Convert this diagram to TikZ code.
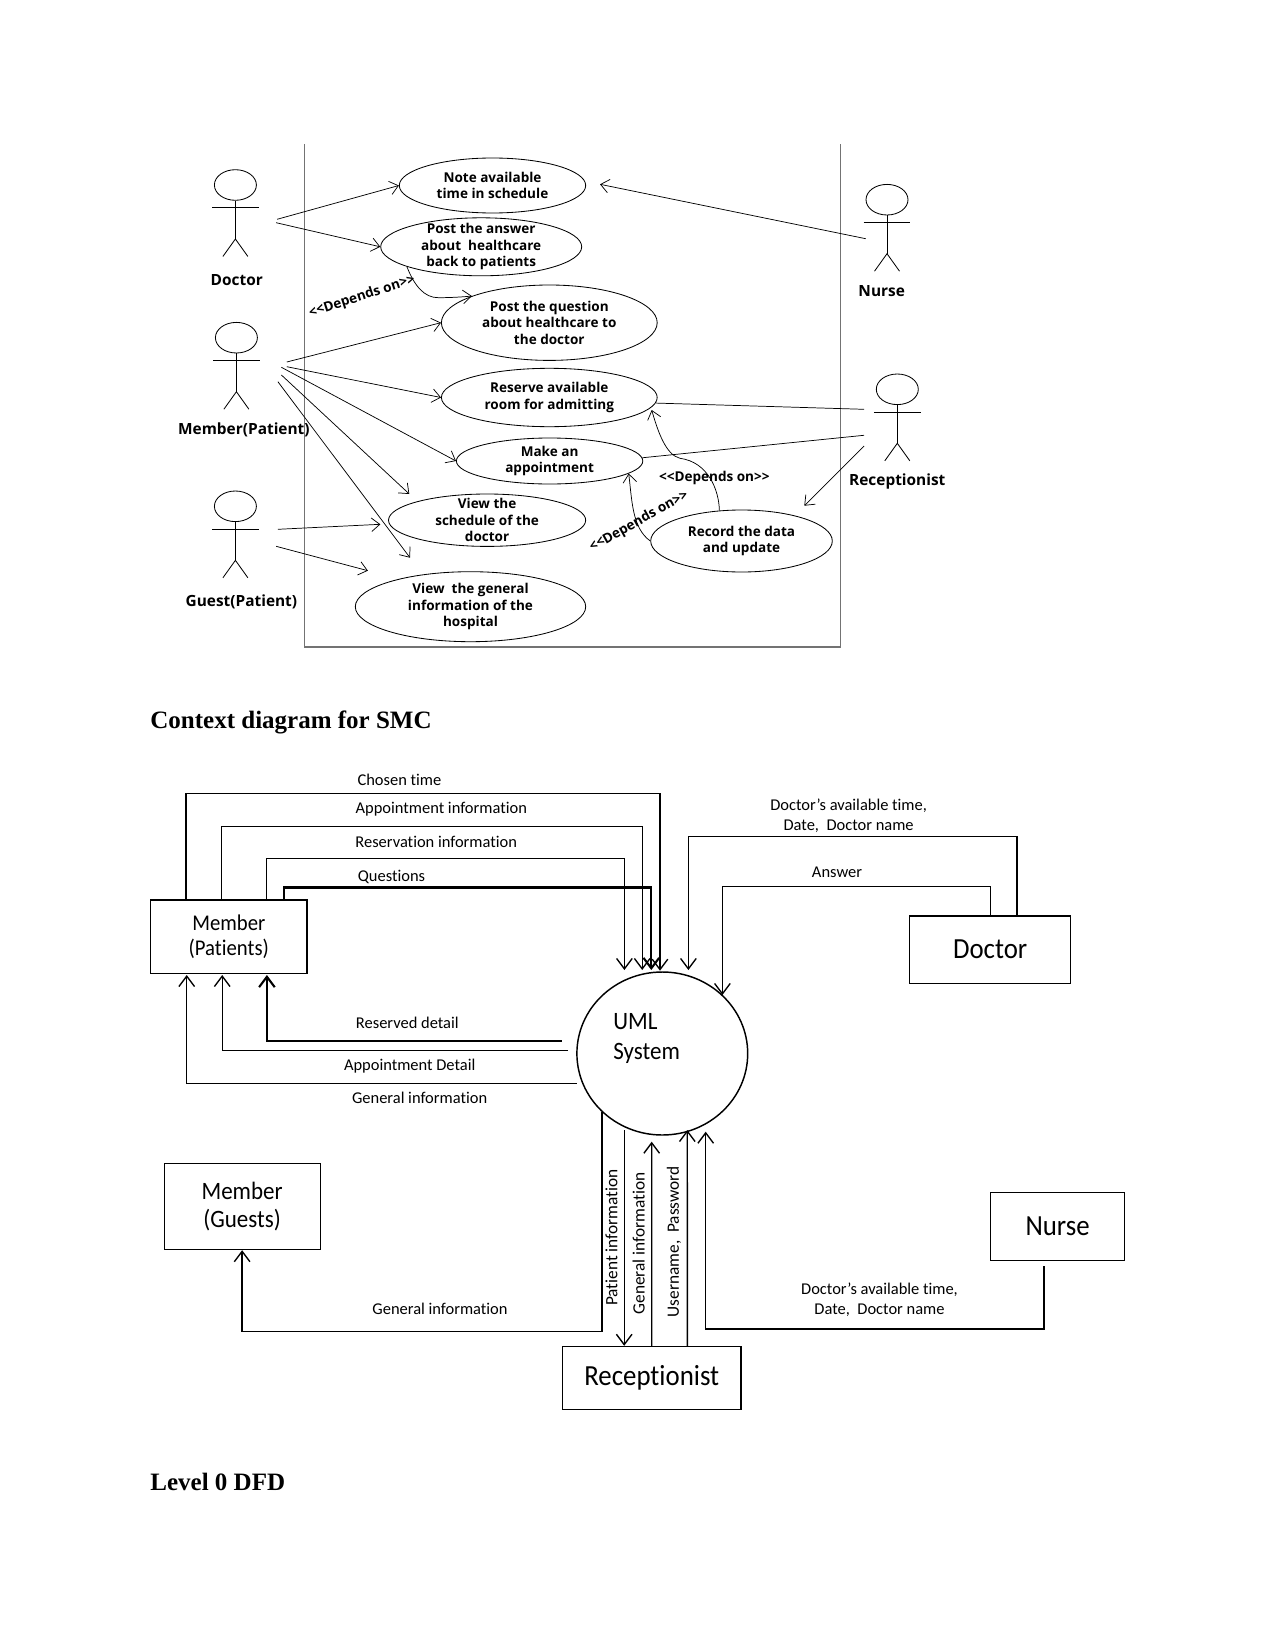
\documentclass[tikz,border=0pt]{standalone}
\usepackage{fontspec}
\setmainfont{Liberation Serif}
\newfontfamily\casefont{Open Sans}
\newfontfamily\flowfont[Ligatures=NoCommon]{Carlito}
\newfontfamily\boxfont[Ligatures=NoCommon,FakeStretch=0.92]{Carlito}
\usetikzlibrary{positioning}
\usetikzlibrary{shapes.geometric,arrows.meta}
\begin{document}
\begin{tikzpicture}[%
    x=0.48pt,
    y=-0.48pt,
    >={Straight Barb[length=4pt,width=6.5pt]},
    usecase/.style 2 args={%
      ellipse,
      draw,
      inner xsep=0pt,
      inner ysep=-4pt,
      line width=0.4pt,
      align=center,
      font=\casefont\bfseries\fontsize{6.5}{8}\selectfont,
      minimum width=#1*0.48pt,
      minimum height=#2*0.48pt
    },
    link/.style={draw, line width=0.35pt},
    actorname/.style={font=\casefont\bfseries\fontsize{7.4}{8}\selectfont},
    depends/.style={font=\casefont\bfseries\fontsize{6.5}{8}\selectfont},
    flow/.style={draw, line width=0.65pt, >={Straight Barb[length=5pt,width=7.5pt]}},
    boldflow/.style={flow, line width=1pt},
    flowlabel/.style={font=\flowfont\fontsize{7.9}{9.4}\selectfont, align=center},
    sidelabel/.style={font=\flowfont\fontsize{8.3}{9.4}\selectfont, rotate=90},
    extbox/.style 2 args={%
      rectangle,
      draw,
      line width=0.55pt,
      align=center,
      inner sep=0pt,
      font=\boxfont\fontsize{#2}{13.5}\selectfont,
      minimum width=#1
    },
    heading/.style={font=\bfseries\fontsize{12}{14}\selectfont, anchor=west, inner sep=0pt},
    actor/.pic={%
      \node[ellipse, draw, line width=0.4pt, inner sep=0pt, minimum width=42*0.48pt, minimum height=30.6*0.48pt] (-head) at (0,0) {};
      \draw[line width=0.4pt] (-head.south) -- (0,54) coordinate (-hip);
      \draw[line width=0.4pt] (-23.4,22.7) -- (23.4,22.7);
      \draw[line width=0.4pt] (-12.5,71.5) -- (-hip) -- (12.5,71.5);
    }
  ]
  \useasboundingbox (0,0) rectangle (1275,1651);
  % System frame:
    \draw[line width=0.7pt, black!55] (304.6,144) -- (304.6,647) -- (840.7,647) -- (840.7,144);
  % Actors:
    \pic (doctor) at (235.4,185) {actor};
    \pic (member) at (236.4,337.7) {actor};
    \pic (guest) at (235.4,506.3) {actor};
    \pic (nurse) at (887,199.7) {actor};
    \pic (recept) at (897.3,389.3) {actor};
    \node[actorname] (doctorname) at (236.8,280.5) {Doctor};
    \node[actorname] (membername) at (243.9,430) {Member(Patient)};
    \node[actorname] (guestname) at (241.4,601.5) {Guest(Patient)};
    \node[actorname] (nursename) at (881.7,291) {Nurse};
    \node[actorname] (receptname) at (897.3,481.5) {Receptionist};
  % Use cases:
    \node[usecase={186.4}{55}] (note) at (492.5,185.5) {Note available\\time in schedule};
    \node[usecase={201}{58}] (answer) at (481.2,246.8) {Post the answer\\about\ \ healthcare\\back to patients};
    \node[usecase={215.8}{75.4}] (question) at (549.3,322.7) {Post the question\\about healthcare to\\the doctor};
    \node[usecase={215.8}{58.4}] (reserve) at (549.3,397.5) {Reserve available\\room for admitting};
    \node[usecase={186.4}{46}] (appoint) at (549.6,461) {Make an\\appointment};
    \node[usecase={197.2}{52.4}] (schedule) at (487.1,520.2) {View the\\schedule of the\\doctor};
    \node[usecase={230.4}{70}] (general) at (470.5,606.7) {View\ \ the general\\information of the\\hospital};
    \node[usecase={181.6}{62}] (record) at (741.5,541) {Record the data\\and update};
    \node[depends, rotate=18] (dependA) at (362.1,296.7) {<{}<Depends on>{}>};
    \node[depends] (dependB) at (714.3,478) {<{}<Depends on>{}>};
    \node[depends, rotate=29] (dependC) at (639,521.7) {<{}<Depends on>{}>};
  % Free ends:
    \coordinate (docA) at (277.1,219.3);
    \coordinate (docB) at (276.1,222.7);
    \coordinate (memA) at (286.8,362);
    \coordinate (memB) at (286.8,366.7);
    \coordinate (memC) at (281.4,367.3);
    \coordinate (memD) at (281.4,375);
    \coordinate (memE) at (277.9,381.7);
    \coordinate (gstA) at (277.9,529.3);
    \coordinate (gstB) at (276.1,546.3);
    \coordinate (nrsA) at (865.7,238.7);
    \coordinate (recA) at (864,409.3);
    \coordinate (recB) at (864,435.3);
    \coordinate (recC) at (864,446);
    \coordinate (noteE) at (600,184.3);
    \coordinate (schedE) at (409.3,494);
    \coordinate (schedF) at (380.4,524.3);
    \coordinate (genE) at (410,557.7);
    \coordinate (genF) at (367.9,570.7);
    \coordinate (recordE) at (804.3,505.7);
    \coordinate (reserveE) at (651.7,410);
  % Paths:
    \draw[link,->] (docA) -- (note.west);
    \draw[link,->] (docB) -- (answer.west);
    \draw[link,->] (memA) -- (question.west);
    \draw[link,->] (memB) -- (reserve.west);
    \draw[link,->] (memC) -- (appoint.west);
    \draw[link,->] (memD) -- (schedE);
    \draw[link,->] (memE) -- (genE);
    \draw[link,->] (gstA) -- (schedF);
    \draw[link,->] (gstB) -- (genF);
    \draw[link,->] (nrsA) -- (noteE);
    \draw[link] (reserve.-3) -- (recA);
    \draw[link] (appoint.2) -- (recB);
    \draw[link,->] (recC) -- (recordE);
    \draw[link,->] (record.126) .. controls (719,490) and (708,462) .. (680,458.3)
      .. controls (666,455) and (658,432) .. (reserveE);
    \draw[link,->] (record.west) .. controls (632,528) and (632,500) .. (appoint.-9);
    \draw[link,->] (answer.195) .. controls (414,285) and (424,298) .. (438.6,297.7)
      .. controls (450,297.7) and (462,297) .. (question.161);
  % Headings:
    \node[heading] (contexthead) at (150,722) {Context diagram for SMC};
    \node[heading] (levelhead) at (150,1482) {Level 0 DFD};
  % External entities:
    \node[extbox={75pt}{10.8}, minimum height=35.2pt] (patients) at (228.8,936.7) {Member\\[-1.4pt](Patients)};
    \node[extbox={77.3pt}{14}, minimum height=32.3pt] (doctorb) at (990.2,949.6) {Doctor};
    \node[extbox={74.9pt}{12}, minimum height=41.4pt] (guests) at (242.1,1206.5) {Member\\(Guests)};
    \node[extbox={64.1pt}{14}, minimum height=32.4pt] (nurseb) at (1057.6,1226.5) {Nurse};
    \node[extbox={85.6pt}{14}, minimum height=30.2pt] (receptb) at (651.75,1377.8) {Receptionist};
    \node[ellipse, draw, line width=0.7pt, minimum width=170.8*0.48pt, minimum height=163*0.48pt, inner sep=0pt] (uml) at (662.3,1053.5) {};
    \node[anchor=west, inner sep=0pt, font=\boxfont\fontsize{12}{14.4}\selectfont, align=left] (umltext) at (613,1038.5) {UML\\System};
  % Free ends:
    \coordinate (umlA) at (660,970.7);
    \coordinate (umlB) at (642.2,970);
    \coordinate (umlC) at (624.4,970);
    \coordinate (umlD) at (651.3,970);
    \coordinate (umlE) at (688.4,970);
    \coordinate (umlF) at (722.4,995);
    \coordinate (umlG) at (561.9,1041);
    \coordinate (umlH) at (568.2,1050.7);
    \coordinate (umlI) at (576.9,1083.7);
    \coordinate (umlJ) at (602,1111.7);
    \coordinate (umlK) at (624.2,1130);
    \coordinate (umlL) at (651.7,1141.7);
    \coordinate (umlM) at (687.3,1130);
    \coordinate (umlN) at (705.7,1131.7);
    \coordinate (tipA) at (266.9,975);
    \coordinate (tipB) at (222.2,975);
    \coordinate (tipC) at (186.7,975);
  % Data flows:
    \draw[flow,->] (patients.north west) ++(36,0) -- ++(0,-106) -| (umlA);
    \draw[flow,->] (patients.north west) ++(71.5,0) -- ++(0,-73) -| (umlB);
    \draw[flow,->] (patients.north west) ++(116.2,0) -- ++(0,-40.7) -| (umlC);
    \draw[boldflow,->] (patients.north west) ++(134,0) -- ++(0,-12) -| (umlD);
    \draw[boldflow,->] (umlG) -| (tipA);
    \draw[flow,->] (umlH) -| (tipB);
    \draw[flow,->] (umlI) -| (tipC);
    \draw[flow,->] (doctorb.north) ++(26.8,0) -- ++(0,-79) -| (umlE);
    \draw[flow,->] (doctorb.north) -- ++(0,-28.7) -| (umlF);
    \draw[flow,->] (umlJ) -- ++(0,220) -| (guests.south);
    \draw[flow,->] (umlK) -- (umlK |- receptb.north);
    \draw[flow,->] (receptb.north) -- (umlL);
    \draw[flow,->] (receptb.north) ++(35.6,0) -- (umlM);
    \draw[flow,->] (nurseb.south) ++(-13.6,5.4) -- ++(0,62.6) -| (umlN);
  % Flow labels:
    \node[flowlabel] (chosen) at (399.4,780) {Chosen time};
    \node[flowlabel] (apptinfo) at (441.3,809.5) {Appointment information};
    \node[flowlabel] (resinfo) at (436.2,841.7) {Reservation information};
    \node[flowlabel] (questions) at (391.5,876.5) {Questions};
    \node[flowlabel] (resdetail) at (407.3,1022.7) {Reserved detail};
    \node[flowlabel] (apptdetail) at (409.7,1066) {Appointment Detail};
    \node[flowlabel] (geninfo) at (419.6,1098) {General information};
    \node[flowlabel] (availA) at (848.6,815.5) {Doctor’s available time,\\Date,\ \ Doctor name};
    \node[flowlabel] (answertext) at (837,872.5) {Answer};
    \node[flowlabel] (guestinfo) at (440,1309) {General information};
    \node[flowlabel] (availB) at (879.5,1299.5) {Doctor’s available time,\\Date,\ \ Doctor name};
    \node[sidelabel] (patinfo) at (611.6,1237.5) {Patient information};
    \node[sidelabel] (recinfo) at (638.7,1243.3) {General information};
    \node[sidelabel] (userpass) at (674,1241.7) {Username,\ \ Password};
\end{tikzpicture}
\end{document}
